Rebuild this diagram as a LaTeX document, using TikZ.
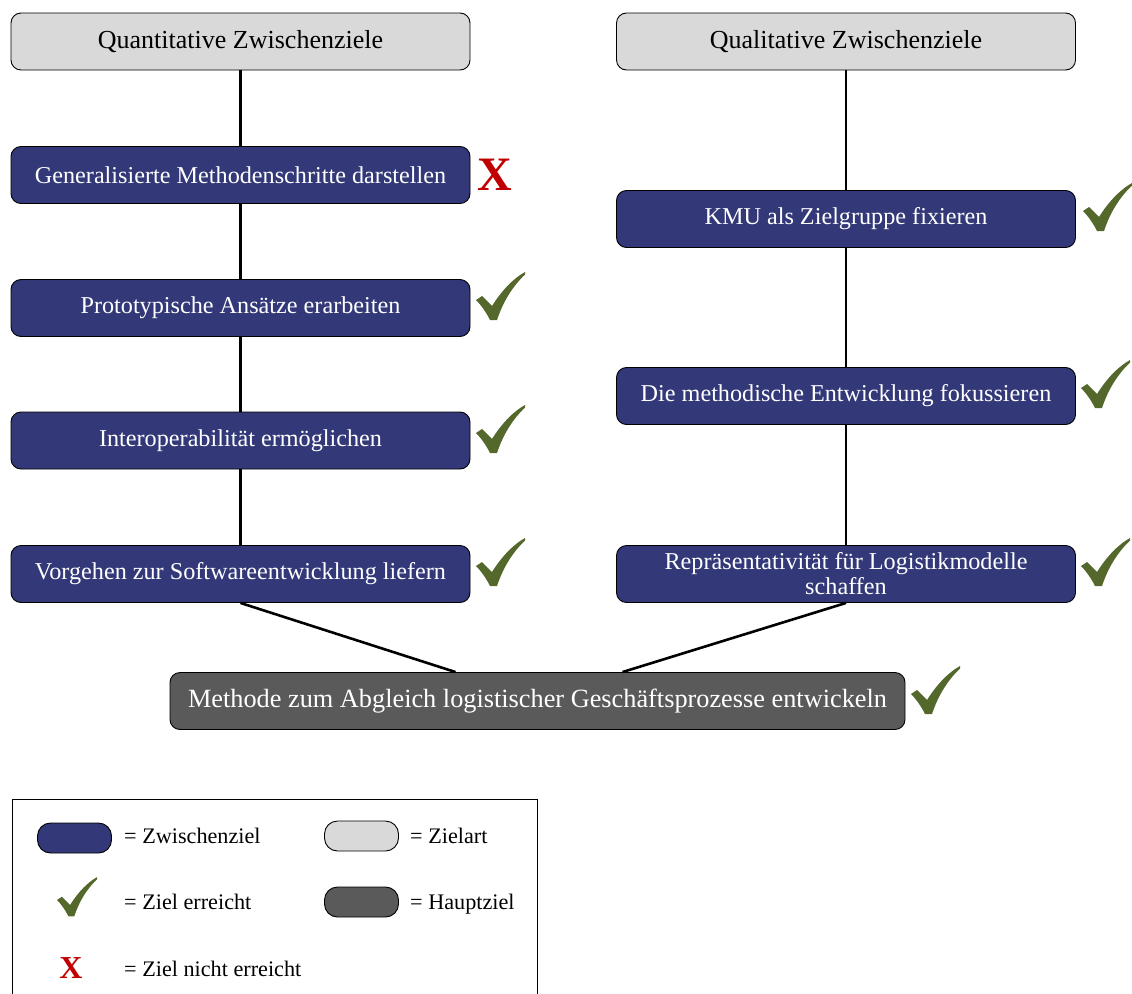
\documentclass[tikz,border=0pt]{standalone}
\usepackage{fontspec}
\setmainfont{Liberation Serif}
\definecolor{zwblue}{RGB}{51,57,120}
\definecolor{zalight}{RGB}{217,217,217}
\definecolor{hzdark}{RGB}{90,90,90}
\definecolor{okgreen}{RGB}{84,104,44}
\definecolor{nored}{RGB}{192,0,0}
\tikzset{
  box/.style={draw=black, line width=0.9pt, rounded corners=10pt, minimum width=459pt, minimum height=57pt, inner sep=2pt, align=center},
  zielart/.style={box, fill=zalight, text=black, font=\fontsize{26}{29}\selectfont},
  zwz/.style={box, fill=zwblue, text=white, font=\fontsize{24.2}{25}\selectfont},
  haupt/.style={box, fill=hzdark, text=white, minimum width=735pt, font=\fontsize{26.3}{29}\selectfont},
  pill/.style={draw=black, line width=0.9pt, rounded corners=13pt, minimum width=74pt, minimum height=30pt, inner sep=0pt},
  legtext/.style={anchor=west, inner sep=0pt, font=\fontsize{22.2}{24}\selectfont},
  conn/.style={draw=black, line width=2.6pt},
  cross/.style={text=nored, font=\bfseries\fontsize{48}{50}\selectfont, inner sep=0pt},
  tick/.pic={\fill[okgreen] (0,28) -- (6,24) -- (16,34) .. controls (26,18) and (38,6) .. (49,0) -- (49,2.5) .. controls (36,15) and (27,30) .. (21,48) -- (14,48) .. controls (10,40) and (5,33) .. (0,28) -- cycle;}
}
\begin{document}
\begin{tikzpicture}[x=1pt,y=-1pt]
\useasboundingbox (0,0) rectangle (1132,993);

% goal type headers
\node[zielart] (quant) at (240.5,41.5) {Quantitative Zwischenziele};
\node[zielart] (qual)  at (846,41.5) {Qualitative Zwischenziele};

% quantitative intermediate goals
\node[zwz] (g1) at (240.5,175)   {Generalisierte Methodenschritte darstellen};
\node[zwz] (g2) at (240.5,308)   {Prototypische Ansätze erarbeiten};
\node[zwz] (g3) at (240.5,440.5) {Interoperabilität ermöglichen};
\node[zwz] (g4) at (240.5,574)   {Vorgehen zur Softwareentwicklung liefern};

% qualitative intermediate goals
\node[zwz] (r1) at (846,219) {KMU als Zielgruppe fixieren};
\node[zwz] (r2) at (846,396) {Die methodische Entwicklung fokussieren};
\node[zwz] (r3) at (846,574) {Repräsentativität für Logistikmodelle\\schaffen};

% main goal
\node[haupt] (main) at (537.5,701) {Methode zum Abgleich logistischer Geschäftsprozesse entwickeln};

% connectors
\draw[conn] (quant) -- (g1);
\draw[conn] (g1) -- (g2);
\draw[conn] (g2) -- (g3);
\draw[conn] (g3) -- (g4);
\draw[conn] (qual) -- (r1);
\draw[conn] (r1) -- (r2);
\draw[conn] (r2) -- (r3);
\draw[conn] (g4.south) -- ([xshift=-82pt]main.north);
\draw[conn] (r3.south) -- ([xshift=85pt]main.north);

% status marks
\node[cross] (x1) at (495,175) {X};
\pic at (476,272) {tick};
\pic at (476,405) {tick};
\pic at (476,538) {tick};
\pic at (1083,183) {tick};
\pic at (1081,360) {tick};
\pic at (1081,538) {tick};
\pic at (911,666) {tick};

% legend
\draw[line width=0.9pt] (12,1005) -- (12,799) -- (537,799) -- (537,1005);
\node[pill, fill=zwblue] (lzw) at (74.5,838) {};
\node[legtext] (tzw) at (124,836) {= Zwischenziel};
\node[pill, fill=zalight] (lza) at (361.5,836) {};
\node[legtext] (tza) at (410,836) {= Zielart};
\pic[scale=0.82] at (57,877) {tick};
\node[legtext] (tok) at (124,902) {= Ziel erreicht};
\node[pill, fill=hzdark] (lhz) at (361.5,902) {};
\node[legtext, anchor=base west] (thz) at (410,909) {= Hauptziel};
\node[cross, font=\bfseries\fontsize{32}{34}\selectfont] (lx) at (71,968) {X};
\node[legtext] (tno) at (124,969) {= Ziel nicht erreicht};
\end{tikzpicture}
\end{document}
